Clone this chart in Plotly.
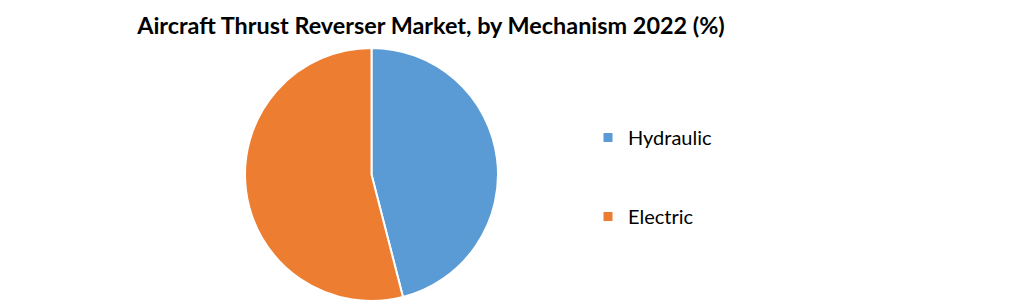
import plotly.graph_objects as go

labels = ["Hydraulic", "Electric"]
values = [46, 54]
colors = ["#5B9BD5", "#ED7D31"]
title = "Aircraft Thrust Reverser Market, by Mechanism 2022 (%)"

fig = go.Figure()
fig.add_trace(go.Pie(
    labels=labels, values=values, sort=False, direction="clockwise", rotation=0,
    marker=dict(colors=colors, line=dict(color="white", width=2)),
    textinfo="none", hoverinfo="label+percent", showlegend=False,
    domain=dict(x=[245/1020, 498/1020], y=[2/303, 255/303]),
))
for i, (lab, col) in enumerate(zip(labels, colors)):
    fig.add_trace(go.Scatter(
        x=[None], y=[None], mode="markers", name=lab, legendgroup=f"g{i}",
        marker=dict(symbol="square", size=9, color=col),
    ))

fig.update_layout(
    width=1020, height=303,
    margin=dict(l=0, r=0, t=0, b=0),
    paper_bgcolor="white", plot_bgcolor="white",
    xaxis=dict(visible=False), yaxis=dict(visible=False),
    title=dict(text=f"<b>{title}</b>", x=431/1020, xanchor="center", y=1-26/303, yanchor="middle",
               font=dict(family="Lato", size=23.4, color="black")),
    legend=dict(x=588/1020, y=1-118/303, xanchor="left", yanchor="top",
                font=dict(family="Lato", size=20, color="black"),
                tracegroupgap=50, itemwidth=30, traceorder="grouped"),
)
fig.write_html("out.html")
